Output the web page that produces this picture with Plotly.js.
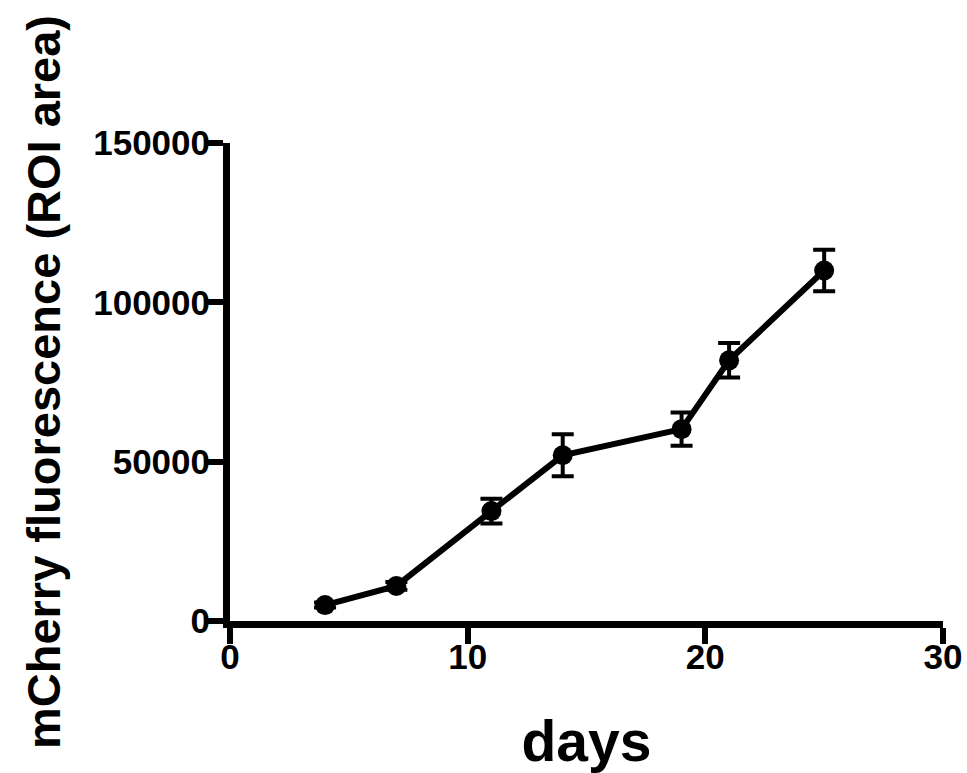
<!DOCTYPE html>
<html>
<head>
<meta charset="utf-8">
<script src="https://cdn.plot.ly/plotly-3.0.1.min.js"></script>
<style>html,body{margin:0;padding:0;background:#fff;}#chart{width:967px;height:773px;}</style>
</head>
<body>
<div id="chart"></div>
<script>
var days = [4, 7, 11, 14, 19, 21, 25];
var fluorescence = [5000, 11000, 34500, 52000, 60200, 81800, 110000];
var errors = [800, 1200, 3900, 6600, 5200, 5400, 6500];
var xTickVals = [0, 10, 20, 30];
var yTickVals = [0, 50000, 100000, 150000];
var xTitle = "days";
var yTitle = "mCherry fluorescence (ROI area)";

var FONT = "Liberation Sans, Arial, Helvetica, sans-serif";

var trace = {
  x: days,
  y: fluorescence,
  type: "scatter",
  mode: "lines+markers",
  line: {color: "#000", width: 6},
  marker: {color: "#000", size: 20},
  error_y: {type: "data", array: errors, visible: true, color: "#000", thickness: 4, width: 11},
  cliponaxis: false,
  showlegend: false
};

var layout = {
  width: 967, height: 773,
  paper_bgcolor: "#fff", plot_bgcolor: "#fff",
  margin: {l: 230, r: 24, t: 143, b: 152},
  xaxis: {
    range: [0, 30], tickvals: xTickVals, ticktext: xTickVals.map(String),
    showline: true, linecolor: "#000", linewidth: 7,
    ticks: "outside", ticklen: 16, tickwidth: 6, tickcolor: "#000",
    showgrid: false, zeroline: false,
    ticklabelstandoff: -17,
    tickfont: {family: FONT, size: 35, color: "#000", weight: "bold"},
    title: {text: xTitle, font: {family: FONT, size: 57, color: "#000", weight: "bold"}, standoff: 52}
  },
  yaxis: {
    range: [0, 150000], tickvals: yTickVals, ticktext: yTickVals.map(String),
    showline: true, linecolor: "#000", linewidth: 7,
    ticks: "outside", ticklen: 16, tickwidth: 6, tickcolor: "#000",
    showgrid: false, zeroline: false,
    ticklabelstandoff: -10,
    tickfont: {family: FONT, size: 35, color: "#000", weight: "bold"},
    title: {text: yTitle, font: {family: FONT, size: 47, color: "#000", weight: "bold"}, standoff: 20}
  }
};

Plotly.newPlot("chart", [trace], layout, {displayModeBar: false, staticPlot: true});
</script>
</body>
</html>
